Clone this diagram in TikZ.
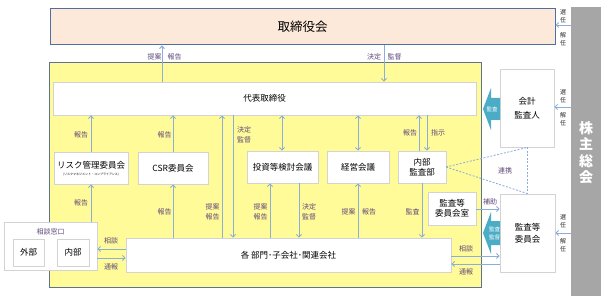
\documentclass[tikz,border=0pt]{standalone}
\usepackage{fontspec}
\setmainfont{Noto Sans CJK JP}
\usetikzlibrary{arrows.meta}
\definecolor{peach}{HTML}{FDE9D9}
\definecolor{boardline}{HTML}{4F6FA0}
\definecolor{yel}{HTML}{FFFB99}
\definecolor{yelline}{HTML}{5E7391}
\definecolor{boxline}{HTML}{D3D3D3}
\definecolor{arrc}{HTML}{8AAED8}
\definecolor{labc}{HTML}{60497A}
\definecolor{cyanarr}{HTML}{4BACC6}
\definecolor{gsmgray}{HTML}{A6A6A6}
\begin{document}
\begin{tikzpicture}[x=1pt,y=-1pt,
  box/.style={draw=boxline, line width=0.8pt, fill=white, inner sep=0pt, align=center, font=\fontsize{8.5}{10}\selectfont},
  arr/.style={draw=arrc, line width=0.9pt, -{Straight Barb[length=2.5pt,width=5pt]}},
  darr/.style={draw=arrc, line width=0.9pt, {Straight Barb[length=2.5pt,width=5pt]}-{Straight Barb[length=2.5pt,width=5pt]}},
  dashline/.style={draw=arrc, line width=0.8pt, dash pattern=on 2pt off 1.5pt},
  lab/.style={text=labc, font=\fontsize{7}{10}\selectfont, inner sep=0pt, align=center},
  vlab/.style={text=black!85, font=\fontsize{6}{8}\selectfont, inner sep=0pt, align=center},
  cyantext/.style={text=white, font=\fontsize{5.5}{8}\selectfont, inner sep=0pt, align=center},
]
\useasboundingbox (0,0) rectangle (604,304);
\fill[white] (0,0) rectangle (604,304);

% main frames
\node[draw=boardline, line width=1pt, fill=peach, minimum width=505pt, minimum height=36pt, inner sep=0pt,
  font=\fontsize{12.5}{14}\selectfont] (board) at (302.5,27) {取締役会};
\node[draw=yelline, line width=1pt, fill=yel, minimum width=432pt, minimum height=224pt, inner sep=0pt] (yarea) at (265,175) {};
\node[fill=gsmgray, minimum width=30pt, minimum height=289pt, inner sep=0pt] (gsm) at (586,151.5) {};
\node[text=white, font=\fontsize{14}{16.5}\selectfont\bfseries, align=center, inner sep=0pt] (gsmtext) at (586,152.5) {株\\主\\総\\会};

% boxes
\node[box, minimum width=423pt, minimum height=33pt] (rep) at (264.5,98.5) {代表取締役};
\node[box, minimum width=74pt, minimum height=32pt] (risk) at (91,168) {};
\node[font=\fontsize{8.5}{10}\selectfont, inner sep=0pt] (risktitle) at (91,165) {リスク管理委員会};
\node[font=\fontsize{3}{4}\selectfont, inner sep=0pt] (risksub) at (91,175) {(リスクマネジメント・コンプライアンス)};
\node[box, minimum width=70pt, minimum height=32pt] (csr) at (173,168) {CSR委員会};
\node[box, minimum width=71pt, minimum height=32pt] (inv) at (282.5,167) {投資等検討会議};
\node[box, minimum width=62pt, minimum height=32pt] (mgmt) at (358,167) {経営会議};
\node[box, minimum width=48pt, minimum height=32pt] (audit) at (422,167) {内部\\監査部};
\node[box, minimum width=48pt, minimum height=33pt] (aco) at (452,208.5) {監査等\\委員会室};
\node[box, minimum width=325pt, minimum height=34pt] (dept) at (288.5,255) {各 部門･子会社･関連会社};
\node[box, minimum width=93pt, minimum height=48pt] (consult) at (50.5,246) {};
\node[text=labc, font=\fontsize{7}{9}\selectfont, inner sep=0pt] (consulttitle) at (50.5,232) {相談窓口};
\node[box, minimum width=31pt, minimum height=27pt] (ext) at (28.5,252.5) {外部};
\node[box, minimum width=32pt, minimum height=27pt] (int) at (73,252.5) {内部};
\node[box, minimum width=54pt, minimum height=78pt, font=\fontsize{8.5}{14}\selectfont] (acct) at (527,108) {会計\\監査人};
\node[box, minimum width=55pt, minimum height=78pt, font=\fontsize{8.5}{12}\selectfont] (ac) at (527.5,233) {監査等\\委員会};

% x coordinates for vertical connectors
\coordinate (x91) at (91,0);
\coordinate (x162) at (162,0);
\coordinate (x173) at (173,0);
\coordinate (x222) at (222,0);
\coordinate (x233) at (233,0);
\coordinate (x270) at (270,0);
\coordinate (x282) at (282,0);
\coordinate (x299) at (299,0);
\coordinate (x358) at (358,0);
\coordinate (x384) at (384,0);
\coordinate (x419) at (419,0);
\coordinate (x422) at (422,0);
\coordinate (x427) at (427,0);
\coordinate (x527) at (527.5,0);
% y coordinates for horizontal connectors
\coordinate (y25) at (0,25);
\coordinate (y107) at (0,107);
\coordinate (y209) at (0,209);
\coordinate (y233) at (0,233);
\coordinate (y249) at (0,249);
\coordinate (y256) at (0,256);
\coordinate (y258) at (0,258);
\coordinate (y264) at (0,264);

% board <-> rep
\draw[arr] (x162 |- rep.north) -- (x162 |- board.south);
\node[lab] (l1a) at (154.5,57) {提案};
\node[lab] (l1b) at (174.5,57) {報告};
\draw[arr] (x384 |- board.south) -- (x384 |- rep.north);
\node[lab] (l2a) at (374,57) {決定};
\node[lab] (l2b) at (394.5,57) {監督};

% shareholders
\draw[arr] (gsm.west |- y25) -- (board.east |- y25);
\node[vlab] (s1a) at (563,16) {選\\任};
\node[vlab] (s1b) at (563,39) {解\\任};
\draw[arr] (gsm.west |- y107) -- (acct.east |- y107);
\node[vlab] (s2a) at (563,96) {選\\任};
\node[vlab] (s2b) at (563,119) {解\\任};
\draw[arr] (gsm.west |- y233) -- (ac.east |- y233);
\node[vlab] (s3a) at (563,221) {選\\任};
\node[vlab] (s3b) at (563,245) {解\\任};

% risk
\draw[arr] (x91 |- risk.north) -- (x91 |- rep.south);
\node[lab] (l3) at (81,135) {報告};
\draw[arr] (x91 |- consult.north) -- (x91 |- risk.south);
\node[lab] (l4) at (81,203) {報告};
% csr
\draw[arr] (x173 |- csr.north) -- (x173 |- rep.south);
\node[lab] (l5) at (164.5,135) {報告};
\draw[arr] (x173 |- dept.north) -- (x173 |- csr.south);
\node[lab] (l6) at (164.5,212) {報告};
% direct dept <-> rep
\draw[arr] (x222 |- dept.north) -- (x222 |- rep.south);
\node[lab] (l7) at (212.5,212) {提案\\報告};
\draw[arr] (x233 |- rep.south) -- (x233 |- dept.north);
\node[lab] (l8) at (244,134.5) {決定\\監督};
% investment
\draw[darr] (x282 |- rep.south) -- (x282 |- inv.north);
\draw[arr] (x270 |- dept.north) -- (x270 |- inv.south);
\node[lab] (l9) at (260.5,212) {提案\\報告};
\draw[arr] (x299 |- inv.south) -- (x299 |- dept.north);
\node[lab] (l10) at (309,212) {決定\\監督};
% management
\draw[darr] (x358 |- rep.south) -- (x358 |- mgmt.north);
\draw[arr] (x358 |- dept.north) -- (x358 |- mgmt.south);
\node[lab] (l11a) at (348.5,212) {提案};
\node[lab] (l11b) at (369,212) {報告};
% internal audit
\draw[arr] (x419 |- audit.north) -- (x419 |- rep.south);
\node[lab] (l12) at (410,133) {報告};
\draw[arr] (x427 |- rep.south) -- (x427 |- audit.north);
\node[lab] (l13) at (438,133) {指示};
\draw[arr] (x422 |- audit.south) -- (x422 |- dept.north);
\node[lab] (l14) at (412.5,212) {監査};

% audit committee office
\draw[arr] (aco.east |- y209) -- (ac.west |- y209);
\node[lab] (l15) at (490,202) {補助};

% consultation desk
\draw[arr] (dept.west |- y249) -- (consult.east |- y249);
\node[lab] (l16) at (111,241) {相談};
\draw[arr] (consult.east |- y258) -- (dept.west |- y258);
\node[lab] (l17) at (111,267) {通報};
% dept <-> audit committee
\draw[arr] (dept.east |- y256) -- (ac.west |- y256);
\node[lab] (l18) at (466,249) {相談};
\draw[arr] (ac.west |- y264) -- (dept.east |- y264);
\node[lab] (l19) at (466,271.5) {通報};

% cooperation dashed lines
\coordinate (dA) at (446,167);
\draw[dashline] (dA) -- (x527 |- acct.south);
\draw[dashline] (dA) -- (x527 |- ac.north);
\draw[dashline] (x527 |- acct.south) -- (x527 |- ac.north);
\node[lab] (l20) at (505,171) {連携};

% cyan block arrows
\fill[cyanarr] (500,98) -- (491,98) -- (491,88) -- (483,109) -- (491,130) -- (491,120) -- (500,120) -- cycle;
\node[cyantext] (c1) at (492,109) {監査};
\fill[cyanarr] (500,221) -- (491,221) -- (491,212) -- (483,233) -- (491,254) -- (491,245) -- (500,245) -- cycle;
\node[cyantext] (c2) at (494.5,233) {監査\\監督};
\end{tikzpicture}
\end{document}
